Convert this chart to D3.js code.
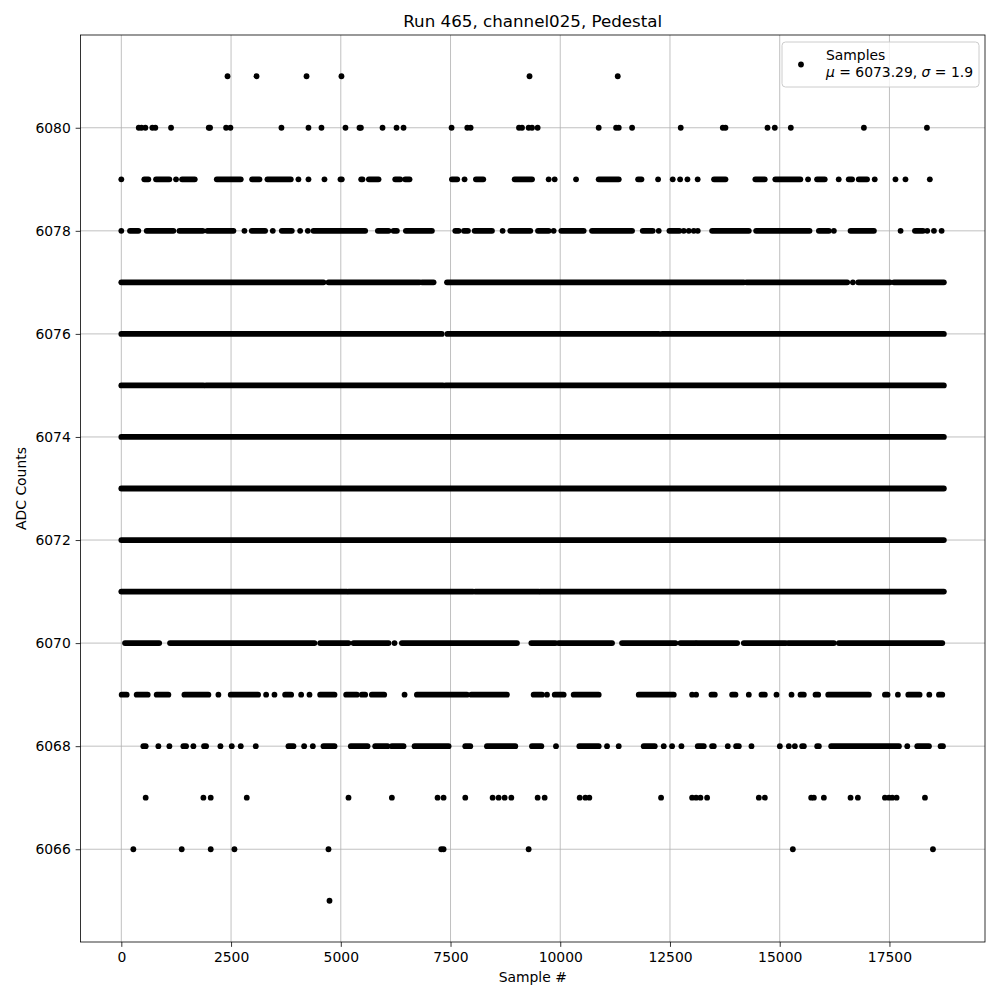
<!DOCTYPE html>
<html>
<head>
<meta charset="utf-8">
<script src="https://cdn.jsdelivr.net/npm/d3@7"></script>
<style>
  html, body { margin: 0; padding: 0; background: #fff; }
  svg { display: block; font-family: "DejaVu Sans", sans-serif; }
</style>
</head>
<body>
<svg id="chart" width="1000" height="1000"></svg>
<script>
// ---------------- DATA ----------------
const title = "Run 465, channel025, Pedestal";
const xLabel = "Sample #";
const yLabel = "ADC Counts";
const legendLabel = "Samples";
const statMu = "6073.29";
const statSigma = "1.9";
const nSamples = 18740;
const xTicks = [0, 2500, 5000, 7500, 10000, 12500, 15000, 17500];
const yTicks = [6066, 6068, 6070, 6072, 6074, 6076, 6078, 6080];

// Each entry: a single sample index (one point) or [first, last] for a run of consecutive dense samples.
const level6081 = [2420, 3080, 4220, 5015, 9300, 11310];
const level6080 = [397, 460, 548, 707, 775, 1133, 1992, 2022, 2387, 2486, 3648, 4264, 4560, 5107, 5426, 5458, 5951,
  6270, 6430, 7524, 7882, 7958, 9060, 9129, 9280, 9357, 9485, 10876, 11272, 11333, 11637, 12745,
  13703, 13764, 14722, 14888, 15253, 16918, 18354];
const level6079 = [0, [524, 616], [791, 1094], 1247, [1384, 1673], [2175, 2721], [2980, 3147], [3329, 3861], 4035, 4264, 4628,
  [4993, 5023], [5465, 5495], [5640, 5860],
  [6240, 6354], [6468, 6566], [7532, 7653], 7820, [8079, 8246], [8961, 9357], 9736, 9873, 10360, [10876, 11333],
  [11774, 11850], 12229, 12563, 12731, 12898,
  13131, [13504, 13764], [14445, 14659], [14900, 15470], 15646, [15851, 16026], 16344, [16572, 16649], [16800, 16990],
  17165, 17637, 17865, 18420];
const level6078 = [0, [198, 388], [578, 1186], [1323, 1855], [1961, 2554], 2805, [2972, 3276], 3451, [3656, 3884], 4074, 4249,
  [4378, 5556], [5845, 6088],
  [6202, 6278], [6483, 7076], [7608, 7684], [7806, 7897], [8049, 8444], 8687, [8862, 9318], [9493, 9736], 9850,
  [10025, 10534], [10724, 11636], [11879, 12107], 12244, [12487, 12715], 12814, 12928, 13042,
  13133, [13460, 14296], [14463, 15679], [15892, 16120], 16234, [16614, 17146], 17754, [18081, 18264], 18362, 18514, 18689];
const level6077 = [[0, 4606], [4720, 6794], [6850, 7114], [7420, 14182], [14243, 16538], 16667, [16789, 17511], [17602, 18740]];
const level6076 = [[0, 7300], [7430, 12244], [12320, 18740]];
const level6075 = [[0, 1870], [1931, 7327], [7390, 18740]];
const level6074 = [[0, 18740]];
const level6073 = [[0, 18740]];
const level6072 = [[0, 18740]];
const level6071 = [[0, 5138], [5176, 8011], [8064, 9508], [9546, 18740]];
const level6070 = [[84, 863], [1110, 4400], [4530, 5176], [5290, 6088],
  6224, [6392, 9014], [9341, 9888], [9964, 11180], [11408, 12624], [12738, 13080],
  [13118, 14030], [14182, 15132], [15193, 16234], [16348, 18704]];
const level6069 = [[8, 122], [350, 601], [806, 1072], [1437, 1984], 2212, [2493, 3116], 3299, 3489, [3732, 3869], 4097, 4287,
  [4530, 4857], [5123, 5366], [5480, 5556], [5708, 5989],
  6453, [6734, 7874], [7973, 8786], [9394, 9584], 9698, [9874, 10078], [10306, 10876], [11788, 12586], 13004,
  13095, [13445, 13521], [13916, 13992], 14296, [14585, 14661], 14927, 15269, [15474, 15550], [15816, 15877],
  [16105, 17032], [17397, 17458], 17693, [17929, 18187], 18408, [18628, 18704]];
const level6068 = [[502, 555], 844, 1095, [1414, 1475], 1642, [1885, 1931], 2258, 2516, 2721, 3063, [3808, 3922], 4165, 4363,
  [4606, 4857], [5229, 5609], [5784, 6065],
  [6164, 6430], [6681, 7456], [7836, 7950], [8330, 8976], [9356, 9569], 9903, [10435, 10876], 11066, 11332,
  [11902, 12153], 12358, 12548, 12761,
  [13133, 13270], [13460, 13498], 13817, [14007, 14068], 14357, 15003, 15208, 15345, [15512, 15550], [15854, 15892],
  [16173, 17716], 17906, [18134, 18400], [18666, 18719]];
const level6067 = [555, 1870, 2037, 2858, 5176, 6164, 7205, 7342, 7836, 8459, 8596, 8733, 8885, 9485, 9645, 10443, 10572,
  10663, 12297, 13004, 13095, 13194, 13346, 14524, 14661, 15717, 15778, 16006, 16614, 16781, 17397, 17488, 17564,
  17663, 18309];
const level6066 = [274, 1376, 2037, 2577, 4720, 7289, 7342, 9280, 15299, 18491];
const level6065 = [4743];

const adcLevels = [6065, 6066, 6067, 6068, 6069, 6070, 6071, 6072, 6073, 6074, 6075, 6076, 6077, 6078, 6079, 6080, 6081];
const levelSamples = [level6065, level6066, level6067, level6068, level6069, level6070, level6071, level6072, level6073,
  level6074, level6075, level6076, level6077, level6078, level6079, level6080, level6081];

// ---------------- CHART ----------------
const svg = d3.select("#chart");
const W = 1000, H = 1000;
const plot = { left: 80.5, right: 985, top: 35, bottom: 942 };

const xMargin = 0.05 * nSamples;
const x = d3.scaleLinear().domain([-xMargin + 7, nSamples + xMargin]).range([plot.left, plot.right]);
const yMin = d3.min(adcLevels), yMax = d3.max(adcLevels);
const yPad = 0.05 * (yMax - yMin);
const y = d3.scaleLinear().domain([yMin - yPad, yMax + yPad]).range([plot.bottom, plot.top]);

const tickLen = 4.86, tickPad = 4.86;
const gridColor = "#b0b0b0";

// grid
const grid = svg.append("g");
grid.selectAll("line.gx").data(xTicks).join("line")
  .attr("x1", d => x(d)).attr("x2", d => x(d))
  .attr("y1", plot.top).attr("y2", plot.bottom)
  .attr("stroke", gridColor).attr("stroke-width", 0.8);
grid.selectAll("line.gy").data(yTicks).join("line")
  .attr("y1", d => y(d)).attr("y2", d => y(d))
  .attr("x1", plot.left).attr("x2", plot.right)
  .attr("stroke", gridColor).attr("stroke-width", 0.8);

// data
const rows = adcLevels.map((lv, i) => ({ level: lv, items: levelSamples[i] }));
const marks = svg.append("g");
const dotR = 2.9;
rows.forEach(row => {
  const pts = row.items.filter(d => !Array.isArray(d));
  const runs = row.items.filter(d => Array.isArray(d));
  marks.selectAll(null).data(runs).join("line")
    .attr("x1", d => x(d[0])).attr("x2", d => x(d[1]))
    .attr("y1", y(row.level)).attr("y2", y(row.level))
    .attr("stroke", "#000").attr("stroke-width", dotR * 2).attr("stroke-linecap", "round");
  marks.selectAll(null).data(pts).join("circle")
    .attr("cx", d => x(d)).attr("cy", y(row.level)).attr("r", dotR).attr("fill", "#000");
});

// axes
const fmt = d3.format("d");
const xAxis = d3.axisBottom(x).tickValues(xTicks).tickFormat(fmt).tickSize(tickLen).tickPadding(tickPad);
const yAxis = d3.axisLeft(y).tickValues(yTicks).tickFormat(fmt).tickSize(tickLen).tickPadding(tickPad);
const gx = svg.append("g").attr("transform", `translate(0,${plot.bottom})`).call(xAxis);
const gy = svg.append("g").attr("transform", `translate(${plot.left},0)`).call(yAxis);
[gx, gy].forEach(g => {
  g.select(".domain").remove();
  g.selectAll("line").attr("stroke", "#000").attr("stroke-width", 0.8);
  g.selectAll("text").attr("fill", "#000").style("font-size", "13.9px").style("font-family", "DejaVu Sans");
});

// spines
svg.append("rect")
  .attr("x", plot.left).attr("y", plot.top)
  .attr("width", plot.right - plot.left).attr("height", plot.bottom - plot.top)
  .attr("fill", "none").attr("stroke", "#000").attr("stroke-width", 0.8);

// title & labels
svg.append("text").attr("x", (plot.left + plot.right) / 2).attr("y", 27)
  .attr("text-anchor", "middle").style("font-size", "16.7px").text(title);
svg.append("text").attr("x", (plot.left + plot.right) / 2).attr("y", 982)
  .attr("text-anchor", "middle").style("font-size", "13.9px").text(xLabel);
svg.append("text").attr("transform", `translate(26,${(plot.top + plot.bottom) / 2}) rotate(-90)`)
  .attr("text-anchor", "middle").style("font-size", "13.9px").text(yLabel);

// legend
const lg = svg.append("g");
lg.append("rect").attr("x", 782).attr("y", 42).attr("width", 197).attr("height", 45).attr("rx", 3.5)
  .attr("fill", "#fff").attr("fill-opacity", 0.8).attr("stroke", "#cccccc").attr("stroke-width", 1);
lg.append("circle").attr("cx", 801).attr("cy", 64.5).attr("r", dotR).attr("fill", "#000");
lg.append("text").attr("x", 826).attr("y", 60).style("font-size", "13.9px").text(legendLabel);
const t2 = lg.append("text").attr("x", 826).attr("y", 77).style("font-size", "13.9px");
t2.append("tspan").attr("font-style", "italic").text("μ");
t2.append("tspan").text(` = ${statMu}, `);
t2.append("tspan").attr("font-style", "italic").text("σ");
t2.append("tspan").text(` = ${statSigma}`);
</script>
</body>
</html>
